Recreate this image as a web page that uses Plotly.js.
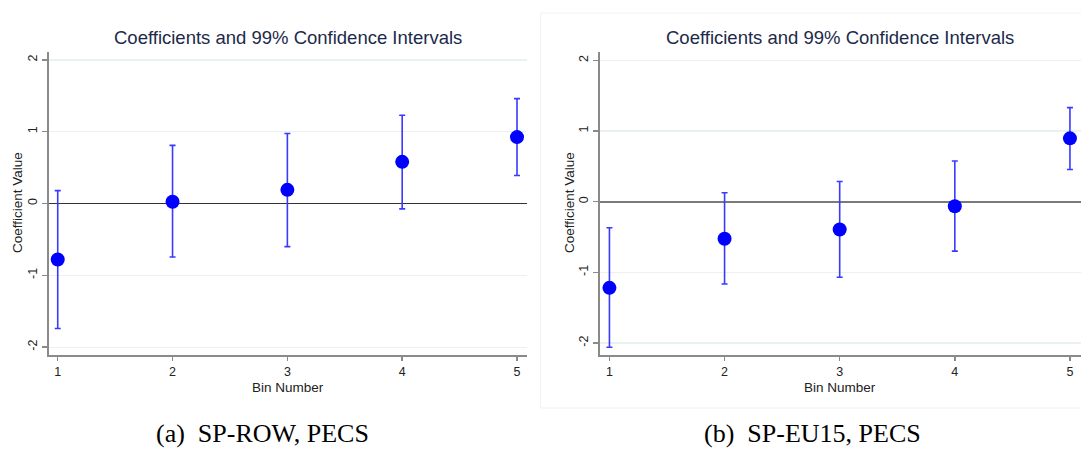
<!DOCTYPE html>
<html>
<head>
<meta charset="utf-8">
<script src="https://cdn.plot.ly/plotly-3.0.1.min.js"></script>
<style>html,body{margin:0;padding:0;background:#fff;}#chart{width:1081px;height:450px;}</style>
</head>
<body>
<div id="chart"></div>
<script>
// Data
const bins = [1, 2, 3, 4, 5];
const tickValsY = [-2, -1, 0, 1, 2];
const tickTextY = ["-2", "-1", "0", "1", "2"];

// Panel (a) SP-ROW, PECS
const coefA  = [-0.78, 0.025, 0.19, 0.58, 0.925];
const upperA = [0.18, 0.81, 0.975, 1.23, 1.46];
const lowerA = [-1.74, -0.745, -0.60, -0.075, 0.39];

// Panel (b) SP-EU15, PECS
const coefB  = [-1.22, -0.525, -0.395, -0.065, 0.895];
const upperB = [-0.37, 0.125, 0.285, 0.575, 1.33];
const lowerB = [-2.06, -1.165, -1.07, -0.70, 0.455];

const plotTitle = "Coefficients and 99% Confidence Intervals";
const xTitle = "Bin Number";
const yTitle = "Coefficient Value";
const captionA = "(a)  SP-ROW, PECS";
const captionB = "(b)  SP-EU15, PECS";

const W = 1081, H = 450;
const px = v => v / W;
const py = v => 1 - v / H;

function trace(coef, up, lo, xa, ya) {
  return {
    type: "scatter", mode: "markers",
    x: bins, y: coef, xaxis: xa, yaxis: ya,
    marker: {color: "#0000ff", size: 14, line: {width: 0}},
    error_y: {
      type: "data", symmetric: false,
      array: coef.map((c, i) => up[i] - c),
      arrayminus: coef.map((c, i) => c - lo[i]),
      color: "#3a3aff", thickness: 1.6, width: 3
    },
    cliponaxis: false,
    hoverinfo: "skip", showlegend: false
  };
}

const tickFont = {family: "Liberation Sans, Arial, sans-serif", size: 12.5, color: "#222"};
const axisFont = {family: "Liberation Sans, Arial, sans-serif", size: 13.5, color: "#222"};

function xaxis(domain, range) {
  return {
    domain: domain, range: range, tickvals: bins, ticktext: bins.map(String),
    showgrid: false, zeroline: false, showline: true, linecolor: "#8a8a8a", linewidth: 2,
    ticks: "outside", ticklen: 4, tickwidth: 1.5, tickcolor: "#8a8a8a",
    tickfont: tickFont, fixedrange: true
  };
}
function yaxis(domain, range, anchor, zc, zw) {
  return {
    domain: domain, range: range, anchor: anchor, tickvals: tickValsY, ticktext: tickTextY,
    tickangle: -90, showgrid: true, gridcolor: "#e9f1f2", gridwidth: 1.2,
    zeroline: true, zerolinecolor: zc, zerolinewidth: zw,
    showline: true, linecolor: "#8a8a8a", linewidth: 2,
    ticks: "outside", ticklen: 5, tickwidth: 1.5, tickcolor: "#8a8a8a",
    tickfont: tickFont, fixedrange: true
  };
}

const yDom = [py(355), py(52)];
const titleFont = {family: "Liberation Sans, Arial, sans-serif", size: 18.5, color: "#1c2a4a"};
const capFont = {family: "Liberation Serif, Times New Roman, serif", size: 26, color: "#000"};

const layout = {
  width: W, height: H,
  margin: {l: 0, r: 0, t: 0, b: 0},
  paper_bgcolor: "#fff", plot_bgcolor: "#fff",
  showlegend: false,
  xaxis: Object.assign(xaxis([px(49), px(527)], [0.924, 5.087]), {anchor: "y"}),
  yaxis: yaxis(yDom, [-2.11, 2.11], "x", "#333333", 1.3),
  xaxis2: Object.assign(xaxis([px(600), 1], [0.918, 5.096]), {anchor: "y2"}),
  yaxis2: yaxis(yDom, [-2.17, 2.117], "x2", "#7a7a7a", 2),
  shapes: [
    {type: "rect", xref: "paper", yref: "paper", x0: px(540.5), x1: px(1085), y0: py(408), y1: py(13),
     line: {color: "#f2f2f2", width: 1}, fillcolor: "rgba(0,0,0,0)", layer: "below"}
  ],
  annotations: [
    {text: plotTitle, xref: "paper", yref: "paper", x: px(288), y: py(38), xanchor: "center", yanchor: "middle",
     showarrow: false, font: titleFont},
    {text: plotTitle, xref: "paper", yref: "paper", x: px(840), y: py(38), xanchor: "center", yanchor: "middle",
     showarrow: false, font: titleFont},
    {text: xTitle, xref: "paper", yref: "paper", x: px(288), y: py(387), xanchor: "center", yanchor: "middle",
     showarrow: false, font: axisFont},
    {text: xTitle, xref: "paper", yref: "paper", x: px(840), y: py(387), xanchor: "center", yanchor: "middle",
     showarrow: false, font: axisFont},
    {text: yTitle, xref: "paper", yref: "paper", x: px(17), y: py(203), xanchor: "center", yanchor: "middle",
     textangle: -90, showarrow: false, font: axisFont},
    {text: yTitle, xref: "paper", yref: "paper", x: px(569), y: py(203), xanchor: "center", yanchor: "middle",
     textangle: -90, showarrow: false, font: axisFont},
    {text: captionA, xref: "paper", yref: "paper", x: px(262), y: py(433), xanchor: "center", yanchor: "middle",
     showarrow: false, font: capFont},
    {text: captionB, xref: "paper", yref: "paper", x: px(812), y: py(433), xanchor: "center", yanchor: "middle",
     showarrow: false, font: capFont}
  ]
};

Plotly.newPlot("chart", [
  trace(coefA, upperA, lowerA, "x", "y"),
  trace(coefB, upperB, lowerB, "x2", "y2")
], layout, {staticPlot: true, displayModeBar: false});
</script>
</body>
</html>
